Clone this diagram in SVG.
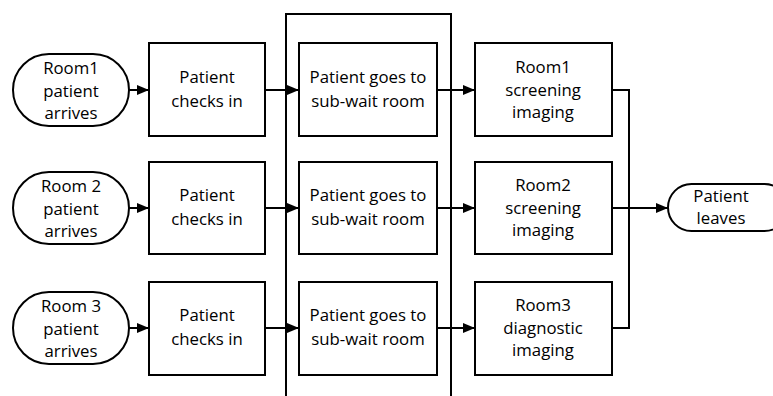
<svg xmlns="http://www.w3.org/2000/svg" width="773" height="396" viewBox="0 0 773 396">
<style>
.box{fill:#fff;stroke:#000;stroke-width:2}
.term{fill:#fff;stroke:#000;stroke-width:2}
.frame{fill:none;stroke:#000;stroke-width:2}
.ln{fill:none;stroke:#000;stroke-width:2}
text{font-family:"Open Sans","Liberation Sans",sans-serif;font-size:16.8px;fill:#000;text-anchor:middle}
</style>
<defs>
<marker id="ah" viewBox="0 0 12 10" refX="12" refY="5" markerWidth="12" markerHeight="10" markerUnits="userSpaceOnUse" orient="auto">
<path d="M0,0 L12,5 L0,10 Z" fill="#000"/>
</marker>
</defs>
<g id="container"><rect class="frame" x="286" y="14" width="165" height="400"/></g>

<g id="connectors">
<line class="ln" x1="129" y1="90" x2="149" y2="90" marker-end="url(#ah)"/>
<line class="ln" x1="129" y1="208" x2="149" y2="208" marker-end="url(#ah)"/>
<line class="ln" x1="129" y1="328" x2="149" y2="328" marker-end="url(#ah)"/>
<line class="ln" x1="265" y1="90" x2="299" y2="90" marker-end="url(#ah)"/>
<line class="ln" x1="265" y1="208" x2="299" y2="208" marker-end="url(#ah)"/>
<line class="ln" x1="265" y1="328" x2="299" y2="328" marker-end="url(#ah)"/>
<line class="ln" x1="437" y1="90" x2="475" y2="90" marker-end="url(#ah)"/>
<line class="ln" x1="437" y1="208" x2="475" y2="208" marker-end="url(#ah)"/>
<line class="ln" x1="437" y1="328" x2="475" y2="328" marker-end="url(#ah)"/>
<polyline class="ln" points="612,90 629,90 629,328 612,328"/>
<line class="ln" x1="612" y1="208" x2="668" y2="208" marker-end="url(#ah)"/>
</g>

<g id="arrive1"><rect class="term" x="13" y="54" width="116" height="72" rx="36"/>
<text x="71" y="74">Room1</text><text x="71" y="97">patient</text><text x="71" y="119">arrives</text></g>
<g id="arrive2"><rect class="term" x="13" y="172" width="116" height="72" rx="36"/>
<text x="71" y="192">Room 2</text><text x="71" y="215">patient</text><text x="71" y="237">arrives</text></g>
<g id="arrive3"><rect class="term" x="13" y="292" width="116" height="72" rx="36"/>
<text x="71" y="312">Room 3</text><text x="71" y="335">patient</text><text x="71" y="357">arrives</text></g>

<g id="checkin1"><rect class="box" x="149" y="43" width="116" height="93"/>
<text x="207" y="83">Patient</text><text x="207" y="107">checks in</text></g>
<g id="checkin2"><rect class="box" x="149" y="162" width="116" height="92"/>
<text x="207" y="201">Patient</text><text x="207" y="225">checks in</text></g>
<g id="checkin3"><rect class="box" x="149" y="282" width="116" height="93"/>
<text x="207" y="321">Patient</text><text x="207" y="345">checks in</text></g>

<g id="wait1"><rect class="box" x="299" y="43" width="138" height="93"/>
<text x="368" y="83">Patient goes to</text><text x="368" y="107">sub-wait room</text></g>
<g id="wait2"><rect class="box" x="299" y="162" width="138" height="92"/>
<text x="368" y="201">Patient goes to</text><text x="368" y="225">sub-wait room</text></g>
<g id="wait3"><rect class="box" x="299" y="282" width="138" height="93"/>
<text x="368" y="321">Patient goes to</text><text x="368" y="345">sub-wait room</text></g>

<g id="img1"><rect class="box" x="475" y="43" width="137" height="93"/>
<text x="543" y="73">Room1</text><text x="543" y="96">screening</text><text x="543" y="118">imaging</text></g>
<g id="img2"><rect class="box" x="475" y="162" width="137" height="92"/>
<text x="543" y="191">Room2</text><text x="543" y="214">screening</text><text x="543" y="236">imaging</text></g>
<g id="img3"><rect class="box" x="475" y="282" width="137" height="93"/>
<text x="543" y="311">Room3</text><text x="543" y="334">diagnostic</text><text x="543" y="356">imaging</text></g>

<g id="leaves"><rect class="term" x="668" y="184" width="120" height="47" rx="23.5"/>
<text x="721" y="202">Patient</text><text x="721" y="224">leaves</text></g>
</svg>
